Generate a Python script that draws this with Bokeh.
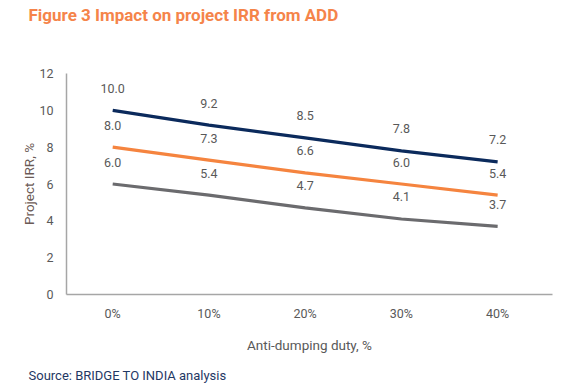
from bokeh.plotting import figure
from bokeh.models import Range1d, FixedTicker, Title, ColumnDataSource
from bokeh.core.properties import value
from bokeh.embed import file_html
from bokeh.resources import INLINE

categories = ["0%", "10%", "20%", "30%", "40%"]
series_names = ["High", "Mid", "Low"]
high = [10.0, 9.2, 8.5, 7.8, 7.2]
mid = [8.0, 7.3, 6.6, 6.0, 5.4]
low = [6.0, 5.4, 4.7, 4.1, 3.7]
colors = ["#0b2a5c", "#f5843f", "#6b6b6e"]
y_ticks = [0, 2, 4, 6, 8, 10, 12]

FONT = "Roboto"
GREY = "#595959"

p = figure(width=559, height=384, output_backend="svg", toolbar_location=None,
           x_range=Range1d(-0.48, 4.57), y_range=Range1d(0, 12),
           min_border_left=66, min_border_right=7, min_border_top=73, min_border_bottom=90,
           title=None)
p.outline_line_color = None
p.grid.grid_line_color = None
p.background_fill_color = "white"
p.border_fill_color = "white"

xs = list(range(len(categories)))
for vals, c in zip([high, mid, low], colors):
    src = ColumnDataSource(dict(x=xs, y=vals, t=[f"{v:.1f}" for v in vals]))
    p.line("x", "y", source=src, line_color=c, line_width=3.2)
    p.text("x", "y", text="t", source=src, text_align="center", text_baseline="middle",
           y_offset=-22, text_font=value(FONT), text_font_size="12.5px", text_color=GREY)

xa = p.xaxis[0]
xa.ticker = FixedTicker(ticks=xs)
xa.major_label_overrides = {i: c for i, c in enumerate(categories)}
xa.major_tick_line_color = None
xa.minor_tick_line_color = None
xa.axis_line_color = "#a6a6a6"
xa.axis_line_width = 1.5
xa.major_label_text_font = FONT
xa.major_label_text_font_size = "12.5px"
xa.major_label_text_color = GREY
xa.major_label_standoff = 5

ya = p.yaxis[0]
ya.ticker = FixedTicker(ticks=y_ticks)
ya.major_tick_line_color = None
ya.minor_tick_line_color = None
ya.axis_line_color = "#a6a6a6"
ya.axis_line_width = 1.5
ya.major_label_text_font = FONT
ya.major_label_text_font_size = "12.5px"
ya.major_label_text_color = GREY
ya.major_label_standoff = 7

p.add_layout(Title(text="Project IRR, %", align="center", standoff=0, vertical_align="bottom",
                   text_font=FONT, text_font_style="normal", text_font_size="13.5px",
                   text_color="#6b5a55"), "left")
# spacer nearest the frame, then the chart title
p.add_layout(Title(text=" ", standoff=34, text_font=FONT, text_font_size="10px"), "above")
p.add_layout(Title(text="Figure 3 Impact on project IRR from ADD", align="left",
                   offset=-38, standoff=0, vertical_align="top", text_font=FONT,
                   text_font_style="bold", text_font_size="17px",
                   text_color="#f5844a"), "above")
p.add_layout(Title(text="Anti-dumping duty, %", align="center", standoff=26,
                   vertical_align="top", text_font=FONT, text_font_style="normal",
                   text_font_size="13.5px", text_color=GREY), "below")
p.add_layout(Title(text="Source: BRIDGE TO INDIA analysis", align="left",
                   offset=-38, standoff=0, vertical_align="top", text_font=FONT,
                   text_font_style="normal", text_font_size="13px",
                   text_color="#1f3864"), "below")

open("out.html", "w").write(file_html(p, INLINE))
